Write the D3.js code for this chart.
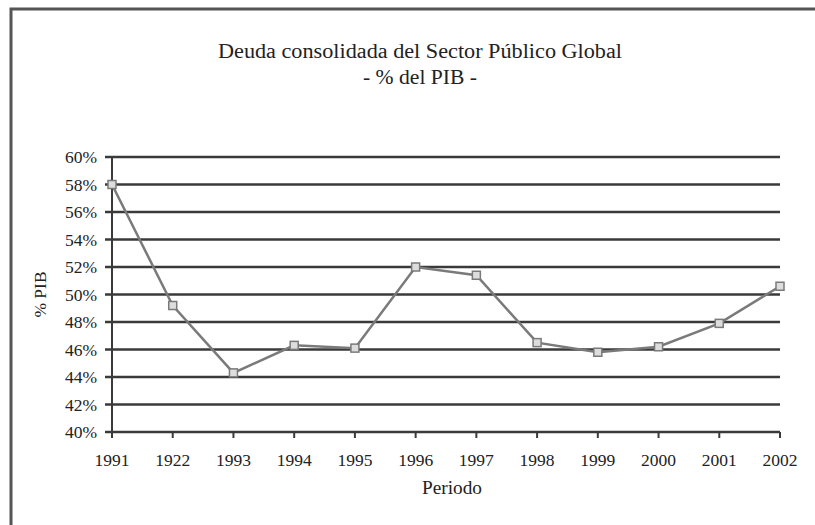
<!DOCTYPE html>
<html><head><meta charset="utf-8">
<script src="https://cdn.jsdelivr.net/npm/d3@7"></script>
<style>body{margin:0;background:#fff}svg{display:block}</style>
</head><body>
<script>
const years = ["1991","1922","1993","1994","1995","1996","1997","1998","1999","2000","2001","2002"];
const values = [58.0, 49.2, 44.3, 46.3, 46.1, 52.0, 51.4, 46.5, 45.8, 46.2, 47.9, 50.6];
const yTicks = [40,42,44,46,48,50,52,54,56,58,60];
const title1 = "Deuda consolidada del Sector Público Global";
const title2 = "- % del PIB -";

const W = 815, H = 525;
const svg = d3.select("body").append("svg").attr("width", W).attr("height", H);
const font = "'Liberation Serif', 'DejaVu Serif', serif";

// frame
svg.append("path").attr("d", `M11,${H} L11,9 L${W},9`).attr("fill","none").attr("stroke","#555").attr("stroke-width",3);

const x = d3.scalePoint().domain(years).range([112, 780]);
const y = d3.scaleLinear().domain([40, 60]).range([432, 157]);

// gridlines
svg.append("g").selectAll("line").data(yTicks).join("line")
  .attr("x1", 105).attr("x2", 780).attr("y1", d => y(d)).attr("y2", d => y(d))
  .attr("stroke", "#3a3a3a").attr("stroke-width", 2.4);

// y axis line
svg.append("line").attr("x1",112).attr("x2",112).attr("y1",y(60)).attr("y2",y(40)+6)
  .attr("stroke","#3a3a3a").attr("stroke-width",2);

// x ticks
svg.append("g").selectAll("line").data(years).join("line")
  .attr("x1", d => x(d)).attr("x2", d => x(d)).attr("y1", y(40)).attr("y2", y(40)+6)
  .attr("stroke","#3a3a3a").attr("stroke-width",2);

// y labels
svg.append("g").selectAll("text").data(yTicks).join("text")
  .attr("x", 97).attr("y", d => y(d)).attr("dy","0.35em").attr("text-anchor","end")
  .attr("font-family", font).attr("font-size", 17.5).attr("fill","#222")
  .text(d => d + "%");

// x labels
svg.append("g").selectAll("text").data(years).join("text")
  .attr("x", d => x(d)).attr("y", 466).attr("text-anchor","middle")
  .attr("font-family", font).attr("font-size", 17.5).attr("fill","#222")
  .text(d => d);

svg.append("text").attr("x", 452).attr("y", 494).attr("text-anchor","middle")
  .attr("font-family", font).attr("font-size", 18).attr("fill","#222")
  .attr("textLength", 60).attr("lengthAdjust","spacingAndGlyphs").text("Periodo");

svg.append("text").attr("transform", `translate(40,${y(50)}) rotate(-90)`).attr("dy","0.35em")
  .attr("text-anchor","middle").attr("font-family", font).attr("font-size", 17.5).attr("fill","#222").text("% PIB");

svg.append("text").attr("x", 420).attr("y", 58).attr("text-anchor","middle")
  .attr("font-family", font).attr("font-size", 20).attr("fill","#222")
  .attr("textLength", 404).attr("lengthAdjust","spacingAndGlyphs").text(title1);
svg.append("text").attr("x", 420).attr("y", 84).attr("text-anchor","middle")
  .attr("font-family", font).attr("font-size", 20).attr("fill","#222")
  .attr("textLength", 114).attr("lengthAdjust","spacingAndGlyphs").text(title2);

// line
const line = d3.line().x((d,i) => x(years[i])).y(d => y(d));
svg.append("path").datum(values).attr("d", line).attr("fill","none")
  .attr("stroke","#7a7a7a").attr("stroke-width",2.5);

svg.append("g").selectAll("rect").data(values).join("rect")
  .attr("x", (d,i) => x(years[i]) - 4).attr("y", d => y(d) - 4)
  .attr("width", 8).attr("height", 8)
  .attr("fill","#ddd").attr("stroke","#7a7a7a").attr("stroke-width",1.5);
</script>
</body></html>
